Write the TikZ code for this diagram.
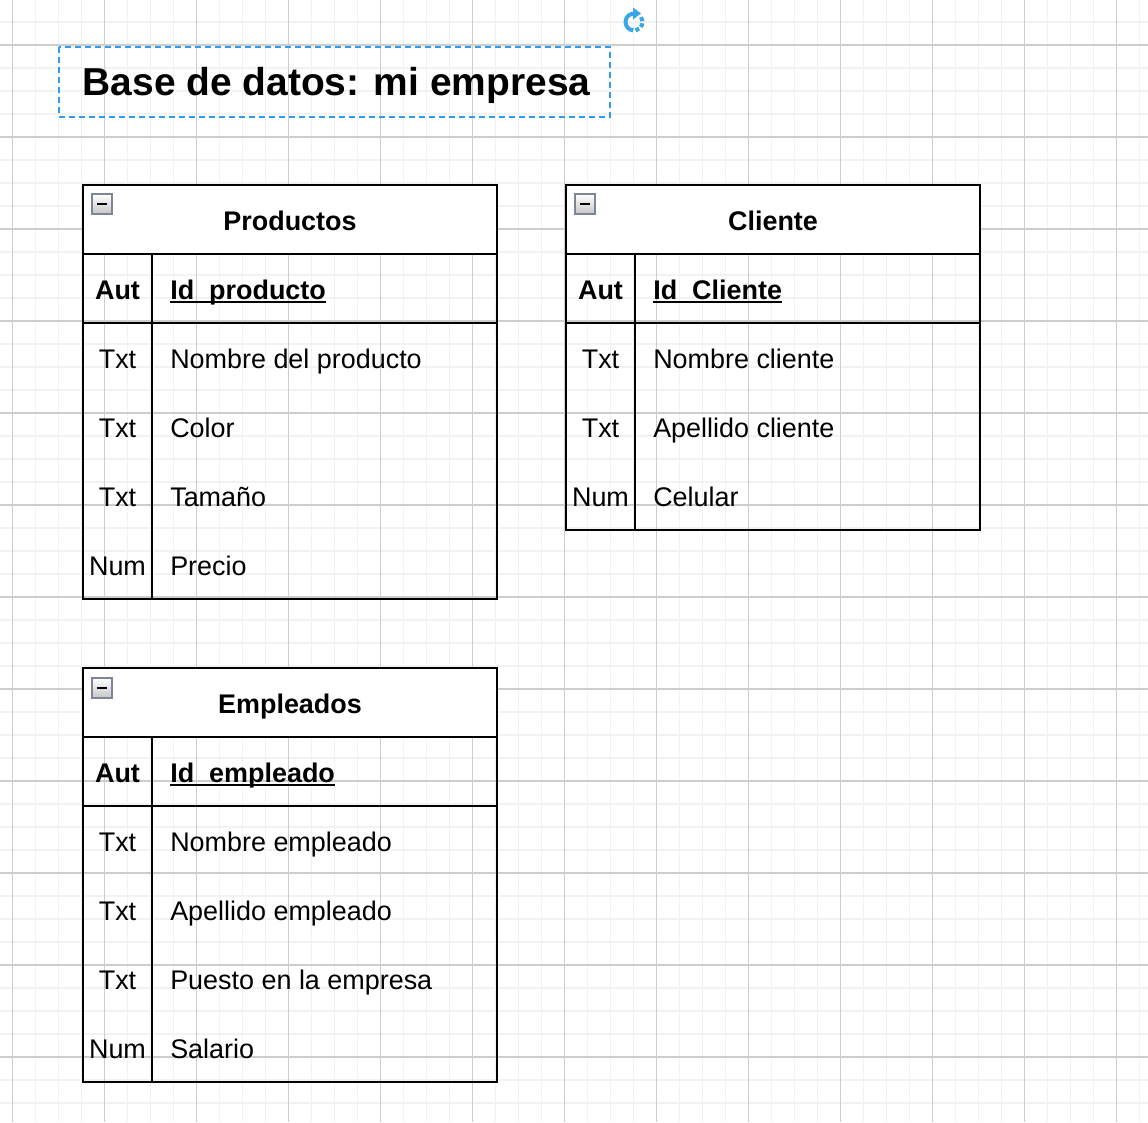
\documentclass[tikz,border=0pt]{standalone}
\usepackage{fontspec}
\setmainfont{Liberation Sans}
\usetikzlibrary{arrows.meta}
\definecolor{gridminor}{HTML}{F2F2F2}
\definecolor{gridmajor}{HTML}{CDCDCD}
\definecolor{selblue}{HTML}{2E9CF0}
\definecolor{iconblue}{HTML}{3AA6EA}
\definecolor{iconborder}{HTML}{7E8598}
\tikzset{
  tblline/.style={line width=1.5pt, black},
  hdr/.style={font=\fontsize{20.2}{24}\selectfont\bfseries, inner sep=0pt, anchor=base},
  keytype/.style={font=\fontsize{20.2}{24}\selectfont\bfseries, inner sep=0pt, anchor=base},
  keyname/.style={font=\fontsize{20.2}{24}\selectfont\bfseries, inner sep=0pt, anchor=base west},
  ftype/.style={font=\fontsize{20.2}{24}\selectfont, inner sep=0pt, anchor=base},
  fname/.style={font=\fontsize{20.2}{24}\selectfont, inner sep=0pt, anchor=base west},
  uline/.style={line width=1.5pt, black},
  collapsebox/.pic={
    \shade[top color=white, bottom color=gray!45, draw=iconborder, line width=1.2pt] (-10,-10) rectangle (10,10);
    \draw[black, line width=1.6pt] (-5,0) -- (5,0);
  }
}
\begin{document}
\begin{tikzpicture}[x=0.75pt,y=-0.75pt]
\useasboundingbox (0,0) rectangle (1148,1122);
\fill[white] (0,0) rectangle (1148,1122);
% grid
\foreach \k in {0,...,49} \draw[gridminor, line width=1.1pt] ({12.5+23*\k},0) -- ({12.5+23*\k},1122);
\foreach \k in {-1,...,46} \draw[gridminor, line width=1.1pt] (0,{45+23*\k}) -- (1148,{45+23*\k});
\foreach \k in {0,...,12} \draw[gridmajor, line width=0.8pt] ({12.5+92*\k},0) -- ({12.5+92*\k},1122);
\foreach \k in {0,...,11} \draw[gridmajor, line width=0.8pt] (0,{45+92*\k}) -- (1148,{45+92*\k});

% refresh icon
\coordinate (rc) at (634,22);
\draw[iconblue, line width=3pt] ([shift={(275:8.5)}]rc) arc[start angle=275, end angle=95, radius=8.5];
\fill[iconblue] ([shift={(0,-8.5)}]rc) ++(-1,-6) -- ++(8,6) -- ++(-8,6) -- cycle;
\draw[iconblue, line width=3pt, dash pattern=on 3pt off 1.8pt] ([shift={(80:8.5)}]rc) arc[start angle=80, end angle=-35, radius=8.5];

% title
\draw[selblue, line width=1.2pt, dash pattern=on 4.5pt off 3pt] (59,47) rectangle (610,117);
\node[font=\fontsize{29.2}{35}\selectfont\bfseries, inner sep=0pt, anchor=base] (title) at (336.5,95) {Base de datos: mi empresa};

% ---------- Productos ----------
\fill[white] (83,185) rectangle (497,254);
\draw[tblline] (83,185) rectangle (497,599);
\draw[tblline] (83,254) -- (497,254);
\draw[tblline] (83,323) -- (497,323);
\draw[tblline] (152,254) -- (152,599);
\pic at (102,204) {collapsebox};
\node[hdr] (prodT) at (290,230) {Productos};
\node[keytype] (prodK) at (117.5,299) {Aut};
\node[keyname] (prodId) at (170,299) {Id\_producto};
\draw[uline] ([yshift=-1.9pt]prodId.base west) -- ([yshift=-1.9pt]prodId.base east);
\node[ftype] (prodT1) at (117.5,368) {Txt};
\node[fname] (prodF1) at (170,368) {Nombre del producto};
\node[ftype] (prodT2) at (117.5,437) {Txt};
\node[fname] (prodF2) at (170,437) {Color};
\node[ftype] (prodT3) at (117.5,506) {Txt};
\node[fname] (prodF3) at (170,506) {Tamaño};
\node[ftype] (prodT4) at (117.5,575) {Num};
\node[fname] (prodF4) at (170,575) {Precio};

% ---------- Cliente ----------
\fill[white] (566,185) rectangle (980,254);
\draw[tblline] (566,185) rectangle (980,530);
\draw[tblline] (566,254) -- (980,254);
\draw[tblline] (566,323) -- (980,323);
\draw[tblline] (635,254) -- (635,530);
\pic at (585,204) {collapsebox};
\node[hdr] (cliT) at (773,230) {Cliente};
\node[keytype] (cliK) at (600.5,299) {Aut};
\node[keyname] (cliId) at (653,299) {Id\_Cliente};
\draw[uline] ([yshift=-1.9pt]cliId.base west) -- ([yshift=-1.9pt]cliId.base east);
\node[ftype] (cliT1) at (600.5,368) {Txt};
\node[fname] (cliF1) at (653,368) {Nombre cliente};
\node[ftype] (cliT2) at (600.5,437) {Txt};
\node[fname] (cliF2) at (653,437) {Apellido cliente};
\node[ftype] (cliT3) at (600.5,506) {Num};
\node[fname] (cliF3) at (653,506) {Celular};

% ---------- Empleados ----------
\fill[white] (83,668) rectangle (497,737);
\draw[tblline] (83,668) rectangle (497,1082);
\draw[tblline] (83,737) -- (497,737);
\draw[tblline] (83,806) -- (497,806);
\draw[tblline] (152,737) -- (152,1082);
\pic at (102,688) {collapsebox};
\node[hdr] (empT) at (290,713) {Empleados};
\node[keytype] (empK) at (117.5,782) {Aut};
\node[keyname] (empId) at (170,782) {Id\_empleado};
\draw[uline] ([yshift=-1.9pt]empId.base west) -- ([yshift=-1.9pt]empId.base east);
\node[ftype] (empT1) at (117.5,851) {Txt};
\node[fname] (empF1) at (170,851) {Nombre empleado};
\node[ftype] (empT2) at (117.5,920) {Txt};
\node[fname] (empF2) at (170,920) {Apellido empleado};
\node[ftype] (empT3) at (117.5,989) {Txt};
\node[fname] (empF3) at (170,989) {Puesto en la empresa};
\node[ftype] (empT4) at (117.5,1058) {Num};
\node[fname] (empF4) at (170,1058) {Salario};
\end{tikzpicture}
\end{document}
